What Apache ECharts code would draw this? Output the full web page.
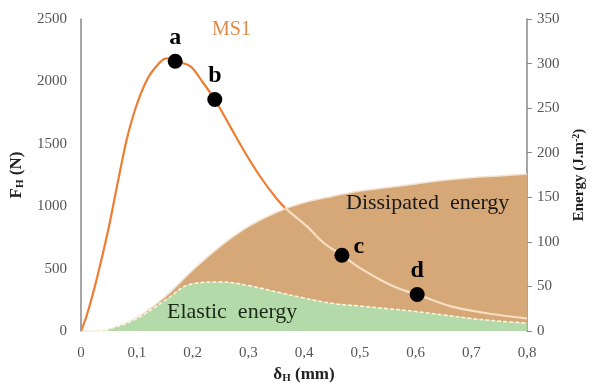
<!DOCTYPE html>
<html>
<head>
<meta charset="utf-8">
<script src="https://cdn.jsdelivr.net/npm/echarts@6/dist/echarts.min.js"></script>
<style>html,body{margin:0;padding:0;background:#fff}#c{width:592px;height:388px}</style>
</head>
<body>
<div id="c"></div>
<script>
// ---- data ----
const forceX = [0, 0.01, 0.028, 0.049, 0.067, 0.082, 0.099, 0.118, 0.136, 0.151, 0.16, 0.169, 0.196, 0.219, 0.240, 0.264, 0.291, 0.321, 0.351, 0.369, 0.405, 0.435, 0.468, 0.50, 0.536, 0.57, 0.603, 0.662, 0.722, 0.80];
const forceF = [0, 120, 413, 813, 1215, 1534, 1801, 2010, 2125, 2182, 2184, 2162, 2122, 1989, 1855, 1668, 1454, 1240, 1060, 975, 840, 707, 607, 506, 413, 340, 292, 199, 146, 100];
const energyX = [0, 0.03, 0.05, 0.1, 0.15, 0.2, 0.25, 0.3, 0.35, 0.4, 0.45, 0.5, 0.55, 0.6, 0.65, 0.7, 0.75, 0.8];
const totalEnergy = [0, 0, 2, 15, 38, 68, 95, 117, 133, 144, 151, 157, 161, 165, 169, 172, 174, 176];
const elasticEnergy = [0, 0, 2, 14, 34, 53, 55, 51, 44, 37, 31, 28, 25, 22, 18, 14, 11, 9];
const pointNames = ['a', 'b', 'c', 'd'];
const pointX = [0.169, 0.240, 0.468, 0.603];
const pointF = [2162, 1855, 607, 292];
const xTicks = ['0', '0,1', '0,2', '0,3', '0,4', '0,5', '0,6', '0,7', '0,8'];
const forceTicks = [0, 500, 1000, 1500, 2000, 2500];
const energyTicks = [0, 50, 100, 150, 200, 250, 300, 350];

const serif = '"Liberation Serif", "DejaVu Serif", serif';
const zip = (a, b) => a.map((v, i) => [v, b[i]]);
const labelPos = ['top', 'top', 'right', 'top'];
const labelOffset = [[0, 0], [0, 0], [0, -8], [0, 0]];

const chart = echarts.init(document.getElementById('c'));
chart.setOption({
  animation: false,
  grid: { left: 81, right: 65, top: 19, bottom: 57, outerBoundsMode: 'none', containLabel: false },
  xAxis: {
    type: 'value', min: 0, max: 0.8, interval: 0.1,
    name: '{b|δ}{s|H}{b| (mm)}', nameLocation: 'middle', nameGap: 32,
    nameTextStyle: { rich: {
      b: { fontFamily: serif, fontSize: 17, fontWeight: 'bold', color: '#222' },
      s: { fontFamily: serif, fontSize: 11, fontWeight: 'bold', color: '#222', verticalAlign: 'bottom', padding: [8, 0, 0, 0] }
    } },
    axisLine: { show: false }, axisTick: { show: false }, splitLine: { show: false },
    axisLabel: { fontFamily: serif, fontSize: 15, color: '#555', margin: 15,
      formatter: v => xTicks[Math.round(v * 10)] }
  },
  yAxis: [{
    type: 'value', min: forceTicks[0], max: forceTicks[forceTicks.length - 1], interval: 500,
    name: '{b|F}{s|H}{b| (N)}', nameLocation: 'middle', nameGap: 52, nameRotate: 90,
    nameTextStyle: { rich: {
      b: { fontFamily: serif, fontSize: 17, fontWeight: 'bold', color: '#222' },
      s: { fontFamily: serif, fontSize: 11, fontWeight: 'bold', color: '#222', verticalAlign: 'bottom', padding: [8, 0, 0, 0] }
    } },
    axisLine: { show: true, lineStyle: { color: '#888', width: 1.5 } },
    axisTick: { show: false }, splitLine: { show: false },
    axisLabel: { fontFamily: serif, fontSize: 15, color: '#555', margin: 14, formatter: v => String(v) }
  }, {
    type: 'value', min: energyTicks[0], max: energyTicks[energyTicks.length - 1], interval: 50,
    name: '{b|Energy (J.m}{p|-2}{b|)}', nameLocation: 'middle', nameGap: 44, nameRotate: 90,
    nameTextStyle: { rich: {
      b: { fontFamily: serif, fontSize: 15, fontWeight: 'bold', color: '#222' },
      p: { fontFamily: serif, fontSize: 10, fontWeight: 'bold', color: '#222', verticalAlign: 'top', padding: [0, 0, 6, 0] }
    } },
    axisLine: { show: true, lineStyle: { color: '#888', width: 1.5 } },
    axisTick: { show: true, inside: false, length: 5, lineStyle: { color: '#888' } },
    splitLine: { show: false },
    axisLabel: { fontFamily: serif, fontSize: 15, color: '#555', margin: 10, formatter: v => String(v) }
  }],
  visualMap: [{
    type: 'piecewise', show: false, seriesIndex: 2, dimension: 0,
    pieces: [{ min: 0, max: 0.366, color: '#ED7D31' }, { min: 0.366, max: 0.8, color: '#F8DEC4' }]
  }],
  series: [{
    type: 'line', yAxisIndex: 1, data: zip(energyX, totalEnergy), smooth: 0.4,
    showSymbol: false, z: 1,
    lineStyle: { color: '#F3E2CF', width: 1.5 },
    areaStyle: { color: '#D6A878', opacity: 1 }
  }, {
    type: 'line', yAxisIndex: 1, data: zip(energyX, elasticEnergy), smooth: 0.4,
    showSymbol: false, z: 2,
    lineStyle: { color: '#FFF6E6', width: 1.5, type: [4, 2] },
    areaStyle: { color: '#B5DAA9', opacity: 1 }
  }, {
    type: 'line', yAxisIndex: 0, data: zip(forceX, forceF), smooth: 0.3,
    showSymbol: false, z: 3,
    lineStyle: { width: 2.2 }
  }, {
    type: 'scatter', yAxisIndex: 0, z: 5,
    data: zip(pointX, pointF).map((d, i) => ({ value: d, label: { position: labelPos[i], offset: labelOffset[i] } })),
    symbolSize: 15, itemStyle: { color: '#000', opacity: 1 },
    label: { show: true, formatter: p => pointNames[p.dataIndex], distance: 4,
      fontFamily: serif, fontWeight: 'bold', fontSize: 24, color: '#000' }
  }],
  graphic: [
    { type: 'text', z: 100, left: 212, top: 20, style: { text: 'MS1', font: '20px ' + serif, fill: '#E0894A' } },
    { type: 'text', z: 100, left: 346, top: 192, style: { text: 'Dissipated  energy', font: '22px ' + serif, fill: '#1a1a1a' } },
    { type: 'text', z: 100, left: 167, top: 301, style: { text: 'Elastic  energy', font: '22px ' + serif, fill: '#1a2a1a' } }
  ]
});
</script>
</body>
</html>
